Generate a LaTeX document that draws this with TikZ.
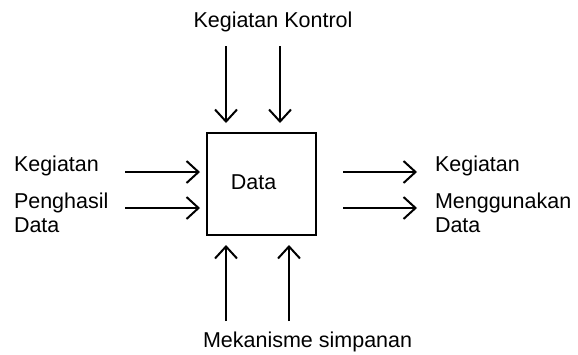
\documentclass[tikz,border=0pt]{standalone}
\usepackage{fontspec}
\setmainfont{Liberation Sans}
\usetikzlibrary{arrows.meta}

\begin{document}
\begin{tikzpicture}[x=0.5pt,y=-0.5pt,line width=1pt,
  font=\fontsize{10.75}{12}\selectfont,
  arr/.style={-{Straight Barb[length=6pt,width=11pt]}},
  box/.style={draw,minimum width=54.5pt,minimum height=51pt,inner sep=0pt},
  txt/.style={anchor=base west,align=left,inner sep=0pt}]
\useasboundingbox (0,0) rectangle (578,354);
% kotak data
\node[box,label={[xshift=-4pt,yshift=1pt]center:Data}] (data) at (261.5,184) {};
% teks (base = baris terakhir)
\node[anchor=base,inner sep=0pt] (kontrol) at (273,27) {Kegiatan Kontrol};
\node[txt] (inA) at (13,171) {Kegiatan};
\node[txt] (inB) at (13,232) {Penghasil\\Data};
\node[txt] (outA) at (434,171) {Kegiatan};
\node[txt] (outB) at (434,232) {Menggunakan\\Data};
\node[txt] (simpan) at (202,347) {Mekanisme simpanan};
% ujung panah
\coordinate (k1) at (226,46);  \coordinate (k1e) at (226,123);
\coordinate (k2) at (280,46);  \coordinate (k2e) at (280,123);
\coordinate (i1) at (125,172); \coordinate (i1e) at (200,172);
\coordinate (i2) at (125,208); \coordinate (i2e) at (200,208);
\coordinate (o1) at (343,172); \coordinate (o1e) at (417,172);
\coordinate (o2) at (343,208); \coordinate (o2e) at (417,208);
\coordinate (m1) at (226,321); \coordinate (m1e) at (226,245);
\coordinate (m2) at (289,321); \coordinate (m2e) at (289,245);
% panah
\draw[arr] (k1) -- (k1e);
\draw[arr] (k2) -- (k2e);
\draw[arr] (i1) -- (i1e);
\draw[arr] (i2) -- (i2e);
\draw[arr] (o1) -- (o1e);
\draw[arr] (o2) -- (o2e);
\draw[arr] (m1) -- (m1e);
\draw[arr] (m2) -- (m2e);
\end{tikzpicture}
\end{document}
